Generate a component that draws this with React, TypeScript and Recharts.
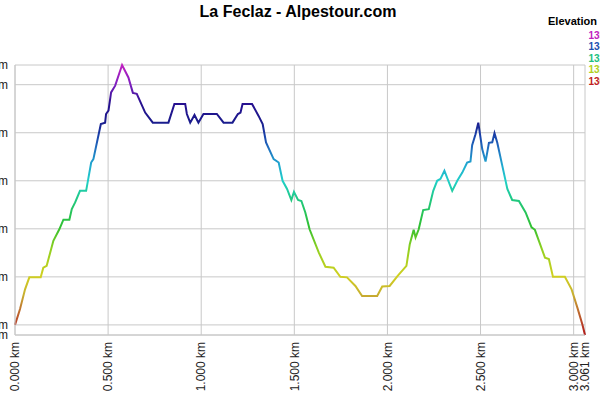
import { LineChart, Line, XAxis, YAxis, CartesianGrid } from 'recharts'

// Route profile: distance (km) and elevation (m)
const distanceKm = [
  0.0, 0.027, 0.054, 0.077, 0.138, 0.152, 0.17, 0.206, 0.238, 0.26,
  0.292, 0.305, 0.323, 0.349, 0.382, 0.409, 0.421, 0.461, 0.484, 0.489,
  0.502, 0.516, 0.538, 0.575, 0.609, 0.633, 0.654, 0.699, 0.74, 0.824,
  0.856, 0.914, 0.923, 0.941, 0.964, 0.985, 1.012, 1.084, 1.12, 1.168,
  1.197, 1.211, 1.222, 1.273, 1.308, 1.33, 1.348, 1.389, 1.416, 1.437,
  1.461, 1.484, 1.498, 1.52, 1.538, 1.559, 1.582, 1.631, 1.667, 1.711,
  1.747, 1.783, 1.828, 1.864, 1.945, 1.972, 2.012, 2.055, 2.102, 2.12,
  2.141, 2.151, 2.168, 2.192, 2.222, 2.246, 2.267, 2.285, 2.306, 2.348,
  2.375, 2.402, 2.428, 2.446, 2.455, 2.473, 2.488, 2.509, 2.527, 2.536,
  2.545, 2.563, 2.575, 2.59, 2.617, 2.644, 2.67, 2.706, 2.742, 2.774,
  2.792, 2.846, 2.867, 2.889, 2.953, 2.989, 3.02, 3.047, 3.061,
]

const elevationM = [
  1300.0, 1303.3, 1307.4, 1309.9, 1309.9, 1311.9, 1312.3, 1317.5, 1319.9, 1321.9,
  1321.9, 1324.1, 1325.5, 1327.9, 1327.9, 1333.8, 1334.5, 1341.8, 1342.1, 1343.9,
  1344.6, 1348.4, 1349.8, 1354.1, 1351.5, 1348.3, 1348.1, 1344.2, 1342.1, 1342.1,
  1346.0, 1346.0, 1343.9, 1342.1, 1343.7, 1342.1, 1343.9, 1343.9, 1342.1, 1342.1,
  1343.9, 1344.2, 1346.0, 1346.0, 1343.5, 1341.8, 1338.0, 1334.5, 1333.8, 1330.0,
  1328.3, 1326.0, 1327.7, 1326.0, 1325.8, 1323.4, 1319.9, 1315.1, 1312.1, 1311.9,
  1310.0, 1309.9, 1308.1, 1306.0, 1306.0, 1308.0, 1308.1, 1310.2, 1312.3, 1316.8,
  1319.8, 1318.2, 1319.9, 1323.9, 1324.1, 1327.9, 1330.0, 1330.4, 1332.1, 1327.9,
  1330.0, 1331.7, 1333.8, 1334.0, 1337.4, 1339.7, 1342.1, 1336.6, 1334.0, 1335.9,
  1337.9, 1338.0, 1339.9, 1337.9, 1333.1, 1328.3, 1326.0, 1325.8, 1323.4, 1320.3,
  1319.8, 1314.0, 1313.7, 1310.0, 1310.0, 1307.4, 1303.6, 1300.1, 1297.9,
]

const xTicks = [0, 0.5, 1, 1.5, 2, 2.5, 3, 3.061]
const yTicks = [1297.9, 1300, 1310, 1320, 1330, 1340, 1350, 1354.1]

const legendLabels = ['1354 m', '1340 m', '1326 m', '1312 m', '1300 m']
const legendColors = ['#c020c0', '#2050b0', '#20c080', '#b0d020', '#c02020']

const data = distanceKm.map((d, i) => ({ d, elev: elevationM[i] }))

const FONT = '"Liberation Sans", Arial, sans-serif'

const XTick = (props: any) => {
  const { x, y, payload } = props
  return (
    <g transform={`translate(${x},${y}) rotate(-90)`}>
      <text textAnchor='end' dy='0.35em' fontSize={12} fill='#222' fontFamily={FONT}>
        {`${Number(payload.value).toFixed(3)} km`}
      </text>
    </g>
  )
}

export default function App() {
  return (
    <div
      style={{
        position: 'absolute',
        left: 0,
        top: 0,
        width: 600,
        height: 400,
        overflow: 'hidden',
        background: '#fff',
        fontFamily: FONT,
      }}
    >
      <div style={{ position: 'absolute', left: -40, top: 0 }}>
        <LineChart width={640} height={400} data={data} margin={{ top: 65, right: 15, bottom: 0, left: 0 }}>
          <defs>
            <linearGradient id='elevGrad' x1='0' y1='0' x2='0' y2='1'>
              <stop offset='0%' stopColor='#c020c0' />
              <stop offset='7%' stopColor='#8020c0' />
              <stop offset='14%' stopColor='#281090' />
              <stop offset='21%' stopColor='#1a1a8c' />
              <stop offset='26%' stopColor='#1a40a8' />
              <stop offset='31%' stopColor='#2070c0' />
              <stop offset='37%' stopColor='#20a8d0' />
              <stop offset='43%' stopColor='#20d0c8' />
              <stop offset='50%' stopColor='#20c880' />
              <stop offset='60%' stopColor='#30c030' />
              <stop offset='68%' stopColor='#90d020' />
              <stop offset='78%' stopColor='#d0d020' />
              <stop offset='85%' stopColor='#c8b030' />
              <stop offset='90%' stopColor='#c07830' />
              <stop offset='96%' stopColor='#b84028' />
              <stop offset='100%' stopColor='#b01818' />
            </linearGradient>
          </defs>
          <CartesianGrid stroke='#c8c8c8' />
          <XAxis
            dataKey='d'
            type='number'
            domain={[0, 3.061]}
            ticks={xTicks}
            interval={0}
            height={65}
            tickSize={0}
            tickMargin={7}
            axisLine={{ stroke: '#c8c8c8' }}
            tick={<XTick />}
          />
          <YAxis
            type='number'
            domain={[1297.9, 1354.1]}
            ticks={yTicks}
            interval={0}
            width={55}
            tickSize={0}
            tickMargin={7}
            axisLine={{ stroke: '#c8c8c8' }}
            tick={{ fontSize: 12, fill: '#222', fontFamily: FONT }}
            tickFormatter={(v) => `${Math.round(v)} m`}
          />
          <Line
            type='linear'
            dataKey='elev'
            stroke='url(#elevGrad)'
            strokeWidth={2}
            dot={false}
            isAnimationActive={false}
          />
        </LineChart>
      </div>
      <svg width={600} height={400} style={{ position: 'absolute', left: 0, top: 0, pointerEvents: 'none' }}>
        <text x={298} y={17} textAnchor='middle' fontSize={16} fontWeight='bold' fill='#000' fontFamily={FONT}>
          La Feclaz - Alpestour.com
        </text>
        <text x={548} y={25} fontSize={11} fontWeight='bold' fill='#000' fontFamily={FONT}>
          Elevation
        </text>
        {legendLabels.map((label, i) => (
          <text
            key={label}
            x={588.5}
            y={38.5 + i * 11.6}
            fontSize={10}
            fontWeight='bold'
            fill={legendColors[i]}
            fontFamily={FONT}
          >
            {label}
          </text>
        ))}
      </svg>
    </div>
  )
}
